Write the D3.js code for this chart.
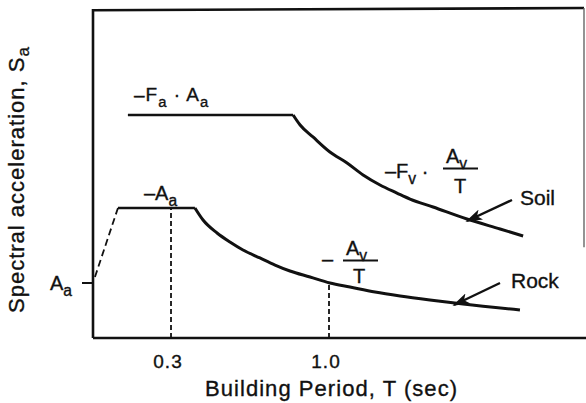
<!DOCTYPE html>
<html><head><meta charset="utf-8">
<script src="https://cdn.jsdelivr.net/npm/d3@7"></script>
<style>body{margin:0;background:#fff} svg{display:block}</style>
</head><body><svg id="c" width="586" height="403"></svg>
<script>
// ---- data (T in seconds, Sa in units of Aa) ----
const tickValues = [0.3, 1.0];
const tickLabels = ["0.3", "1.0"];
const soilPlateauT = [0.109, 0.841];
const soilPlateauSa = [4.055, 4.055];
const soilDecayT  = [0.841, 0.872, 0.929, 1.004, 1.080, 1.151, 1.226, 1.301, 1.359, 1.461, 1.611, 1.758, 1.860];
const soilDecaySa = [4.055, 3.873, 3.655, 3.382, 3.182, 2.964, 2.782, 2.636, 2.527, 2.382, 2.164, 1.982, 1.855];
const rockRampT = [-0.037, 0.065];
const rockRampSa = [1.109, 2.364];
const rockPlateauT = [0.065, 0.406];
const rockPlateauSa = [2.364, 2.364];
const rockDecayT  = [0.406, 0.442, 0.504, 0.561, 0.619, 0.694, 0.761, 0.827, 0.916, 1.004, 1.093, 1.204, 1.315, 1.447, 1.594, 1.846];
const rockDecaySa = [2.364, 2.145, 1.909, 1.745, 1.600, 1.455, 1.327, 1.218, 1.109, 1.000, 0.927, 0.836, 0.764, 0.691, 0.618, 0.509];
const markerT = [0.3, 1.0];
const markerSa = [2.364, 0.98];
const aaLevel = 1.0;

// ---- layout ----
const x = d3.scaleLinear().domain([-0.0456, 2.1386]).range([93, 586]);
const y = d3.scaleLinear().domain([0, 6]).range([338, 8]);
const svg = d3.select("#c");
const FONT = "'Liberation Sans', Arial, Helvetica, sans-serif";
const zip = (a, b) => a.map((v, i) => [v, b[i]]);
const line = d3.line().x(d => x(d[0])).y(d => y(d[1]));
const curve = d3.line().x(d => x(d[0])).y(d => y(d[1])).curve(d3.curveMonotoneX);

// frame
const g = svg.append("g").attr("fill", "none").attr("stroke", "#111");
g.append("path").attr("stroke-width", 2.6)
  .attr("d", `M${x(-0.0456)},${y(0)} V${y(5.96)} L${584},${y(6.0)}`);
g.append("path").attr("stroke-width", 1.4).attr("stroke", "#666")
  .attr("d", `M584,${y(6.0)} V${y(1.65)}`);
g.append("path").attr("stroke-width", 2.6).attr("d", `M${x(-0.0456)},${y(0)} H586`);

// curves
g.append("path").attr("stroke-width", 2.6).attr("d", line(zip(soilPlateauT, soilPlateauSa)));
g.append("path").attr("stroke-width", 3).attr("d", curve(zip(soilDecayT, soilDecaySa)));
g.append("path").attr("stroke-width", 2.6).attr("d", line(zip(rockPlateauT, rockPlateauSa)));
g.append("path").attr("stroke-width", 3).attr("d", curve(zip(rockDecayT, rockDecaySa)));
g.append("path").attr("stroke-width", 1.8).attr("stroke-dasharray", "7,4")
  .attr("d", line(zip(rockRampT, rockRampSa)));
markerT.forEach((t, i) => {
  g.append("path").attr("stroke-width", 1.8).attr("stroke-dasharray", "5,3")
    .attr("d", `M${x(t)},${y(0)} V${y(markerSa[i])}`);
});
g.append("path").attr("stroke-width", 2).attr("d", `M${x(-0.0456) - 11},${y(aaLevel)} H${x(-0.0456)}`);

// text
const tx = svg.append("g").attr("font-family", FONT).attr("fill", "#111")
  .attr("stroke", "#111").attr("stroke-width", 0.35);
tickValues.forEach((t, i) => {
  tx.append("text").attr("x", x(t) - 3).attr("y", 368).attr("text-anchor", "middle")
    .attr("font-size", 19).attr("letter-spacing", 1).text(tickLabels[i]);
});
tx.append("text").attr("x", 205).attr("y", 396).attr("font-size", 22)
  .attr("textLength", 252).attr("lengthAdjust", "spacing").text("Building Period, T (sec)");
const yt = tx.append("text").attr("transform", "translate(24,313) rotate(-90)")
  .attr("font-size", 22).attr("textLength", 266).attr("lengthAdjust", "spacing");
yt.append("tspan").text("Spectral acceleration, S");
yt.append("tspan").attr("dy", 5).attr("font-size", 17).text("a");

function subText(parent, xx, yy, size, parts, ls) {
  const t = parent.append("text").attr("x", xx).attr("y", yy).attr("font-size", size)
    .attr("letter-spacing", ls || 0);
  parts.forEach(p => {
    if (p.sub) t.append("tspan").attr("dy", size * 0.3).attr("font-size", size * 0.78).text(p.s);
    else if (p.up) t.append("tspan").attr("dy", -size * 0.3).text(p.s);
    else t.append("tspan").text(p.s);
  });
  return t;
}
subText(tx, 50, 290, 20, [{s: "A"}, {s: "a", sub: true}]);
subText(tx, 134, 101, 19, [{s: "–F"}, {s: "a", sub: true}, {s: " · A", up: true}, {s: "a", sub: true}], 1);
subText(tx, 144, 200, 20, [{s: "–A"}, {s: "a", sub: true}]);
subText(tx, 385, 178, 20, [{s: "–F"}, {s: "v", sub: true}, {s: " ·", up: true}]);
subText(tx, 446, 163, 20, [{s: "A"}, {s: "v", sub: true}]);
g.append("path").attr("stroke-width", 2).attr("d", "M443,168.5 H478");
tx.append("text").attr("x", 460).attr("y", 193).attr("text-anchor", "middle").attr("font-size", 20).text("T");
tx.append("text").attr("x", 322).attr("y", 266).attr("font-size", 20).text("–");
subText(tx, 346, 255, 20, [{s: "A"}, {s: "v", sub: true}]);
g.append("path").attr("stroke-width", 2).attr("d", "M343,260.5 H378");
tx.append("text").attr("x", 359).attr("y", 283).attr("text-anchor", "middle").attr("font-size", 20).text("T");
tx.append("text").attr("x", 520).attr("y", 205).attr("font-size", 21).text("Soil");
tx.append("text").attr("x", 511).attr("y", 288).attr("font-size", 21).text("Rock");

// arrows
svg.append("defs").append("marker").attr("id", "ah").attr("viewBox", "0 0 10 10")
  .attr("preserveAspectRatio", "none")
  .attr("refX", 9).attr("refY", 5).attr("markerWidth", 17).attr("markerHeight", 11)
  .attr("markerUnits", "userSpaceOnUse").attr("orient", "auto")
  .append("path").attr("d", "M0,0 L10,5 L0,10 L2.5,5 Z").attr("fill", "#111").attr("stroke", "none");
g.append("path").attr("stroke-width", 2.4).attr("marker-end", "url(#ah)").attr("d", "M512,200 L467,221");
g.append("path").attr("stroke-width", 2.4).attr("marker-end", "url(#ah)").attr("d", "M500,283 L454,305");
</script></body></html>
